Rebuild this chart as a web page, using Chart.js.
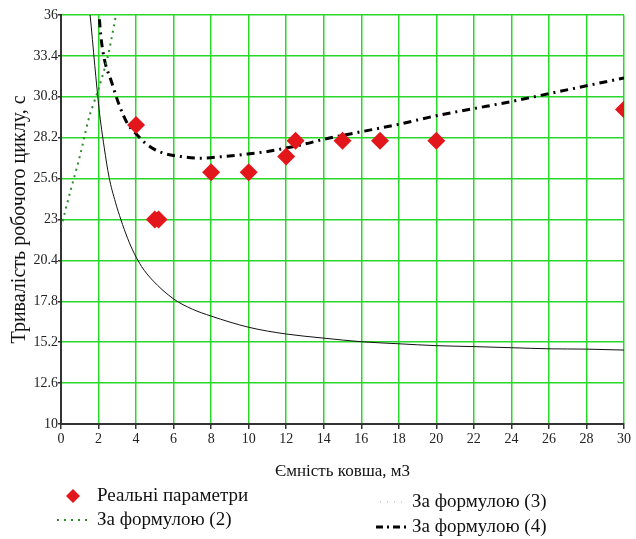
<!DOCTYPE html>
<html>
<head>
<meta charset="utf-8">
<script src="https://cdn.jsdelivr.net/npm/chart.js@4.4.1/dist/chart.umd.min.js"></script>
<style>
  html, body { margin: 0; padding: 0; background: #fff; }
</style>
</head>
<body>
<canvas id="graficoCiclu" width="636" height="539"></canvas>
<script>
// Реальні параметри (ємність ковша, тривалість циклу)
const realX = [4, 5, 5.2, 8, 10, 12, 12.5, 15, 17, 20, 30];
const realY = [29, 23, 23, 26, 26, 27, 28, 28, 28, 28, 30];

// За формулою (2) - зелена пунктирна
const f2X = [0, 0.5, 1, 1.5, 2, 2.5, 3, 3.2];
const f2Y = [22.5, 24.8, 27.0, 29.5, 31.3, 33.4, 36.4, 37.3];

// За формулою (3) - тонка чорна
const f3X = [1.45, 1.55, 1.8, 2.03, 2.3, 2.56, 2.9, 3.19, 3.55, 3.9, 4.3, 4.87, 6, 7, 8, 10, 12, 14, 16, 18, 20, 22, 24, 26, 28, 30];
const f3Y = [37, 36, 32.8, 30, 27.6, 25.7, 24.1, 23, 21.8, 20.85, 20.0, 19.15, 17.95, 17.3, 16.86, 16.15, 15.72, 15.46, 15.23, 15.1, 14.98, 14.92, 14.85, 14.78, 14.76, 14.7];

// За формулою (4) - штрих-пунктир
const f4X = [1.97, 2.03, 2.12, 2.3, 2.69, 3.1, 3.54, 4, 4.5, 5.23, 6.39, 7.46, 8.61, 9.77, 10.93, 11.9, 13, 14, 16, 18, 20, 22, 24, 26, 28, 30];
const f4Y = [37, 36, 34.7, 33.25, 31.76, 30.28, 29.1, 28.45, 27.85, 27.31, 27.0, 26.9, 27.0, 27.14, 27.31, 27.52, 27.8, 28.1, 28.58, 29.05, 29.6, 30.05, 30.5, 31.0, 31.5, 32.0];

// Поділки осей
const xTicks = [0, 2, 4, 6, 8, 10, 12, 14, 16, 18, 20, 22, 24, 26, 28, 30];
const yTicks = [10, 12.6, 15.2, 17.8, 20.4, 23, 25.6, 28.2, 30.8, 33.4, 36];

const legendLabels = ['Реальні параметри', 'За формулою (2)', 'За формулою (3)', 'За формулою (4)'];

const toPoints = (xs, ys) => xs.map((x, i) => ({ x: x, y: ys[i] }));

const serif = '"Liberation Serif", "Times New Roman", serif';
const gridGreen = 'rgb(40, 215, 40)';
const red = '#e3161c';
const green = '#2a8c2a';
const dash4 = [8, 5, 2, 5];

// легенда під графіком (малюється вручну, бо вона у два стовпці зі зсувом)
const legendaPlugin = {
    id: 'legenda',
    afterDraw(chart) {
        const c = chart.ctx;
        c.save();
        c.font = '19px ' + serif;
        c.fillStyle = '#111';
        c.textBaseline = 'middle';
        c.textAlign = 'left';

        // Реальні параметри
        c.fillStyle = red;
        c.beginPath();
        c.moveTo(73, 489); c.lineTo(80, 496); c.lineTo(73, 503); c.lineTo(66, 496);
        c.closePath(); c.fill();
        c.fillStyle = '#111';
        c.fillText(legendLabels[0], 97, 496);

        // За формулою (2)
        c.strokeStyle = green; c.lineWidth = 2; c.setLineDash([2, 5]);
        c.beginPath(); c.moveTo(57, 520); c.lineTo(91, 520); c.stroke();
        c.fillText(legendLabels[1], 97, 520);

        // За формулою (3)
        c.strokeStyle = '#aaa'; c.lineWidth = 1; c.setLineDash([1, 6]);
        c.beginPath(); c.moveTo(380, 502); c.lineTo(406, 502); c.stroke();
        c.fillText(legendLabels[2], 412, 502);

        // За формулою (4)
        c.strokeStyle = '#000'; c.lineWidth = 3; c.setLineDash([7, 4, 2, 4]);
        c.beginPath(); c.moveTo(376, 527); c.lineTo(406, 527); c.stroke();
        c.setLineDash([]);
        c.fillText(legendLabels[3], 412, 527);
        c.restore();
    }
};

const ctx = document.getElementById('graficoCiclu').getContext('2d');

new Chart(ctx, {
    type: 'scatter',
    data: {
        datasets: [{
            label: legendLabels[0],
            data: toPoints(realX, realY),
            pointStyle: 'rectRot',
            pointRadius: 9,
            pointBackgroundColor: red,
            pointBorderColor: red,
            pointBorderWidth: 0,
            showLine: false,
            clip: 0
        }, {
            label: legendLabels[1],
            data: toPoints(f2X, f2Y),
            showLine: true,
            borderColor: green,
            borderWidth: 2,
            borderDash: [2, 4.5],
            pointRadius: 0,
            tension: 0.3,
            clip: 0
        }, {
            label: legendLabels[2],
            data: toPoints(f3X, f3Y),
            showLine: true,
            borderColor: '#111',
            borderWidth: 1,
            pointRadius: 0,
            cubicInterpolationMode: 'monotone',
            clip: 0
        }, {
            label: legendLabels[3],
            data: toPoints(f4X, f4Y),
            showLine: true,
            borderColor: '#000',
            borderWidth: 3,
            borderDash: dash4,
            pointRadius: 0,
            cubicInterpolationMode: 'monotone',
            clip: 0
        }]
    },
    options: {
        responsive: false,
        animation: false,
        events: [],
        layout: {
            padding: { left: 0, right: 12, top: 15, bottom: 55 }
        },
        plugins: {
            legend: { display: false },
            tooltip: { enabled: false }
        },
        scales: {
            x: {
                type: 'linear',
                min: 0,
                max: 30,
                afterBuildTicks: (s) => { s.ticks = xTicks.map(v => ({ value: v })); },
                afterFit: (s) => { s.height = 60; },
                ticks: {
                    font: { size: 14, family: serif },
                    color: '#222',
                    padding: 2,
                    maxRotation: 0,
                    autoSkip: false
                },
                grid: {
                    color: gridGreen,
                    lineWidth: 1.5,
                    tickColor: '#333',
                    tickLength: 5
                },
                border: { color: '#333', width: 2 },
                title: {
                    display: true,
                    text: 'Ємність ковша, м3',
                    font: { size: 17, family: serif },
                    color: '#111',
                    padding: { top: 0, bottom: 2 }
                }
            },
            y: {
                type: 'linear',
                min: 10,
                max: 36,
                afterBuildTicks: (s) => { s.ticks = yTicks.map(v => ({ value: v })); },
                afterFit: (s) => { s.width = 61; },
                ticks: {
                    font: { size: 14, family: serif },
                    color: '#222',
                    padding: 0,
                    callback: (v) => String(Math.round(v * 10) / 10)
                },
                grid: {
                    color: gridGreen,
                    lineWidth: 1.5,
                    tickColor: '#333',
                    tickLength: 3
                },
                border: { color: '#333', width: 2 },
                title: {
                    display: true,
                    text: 'Тривалість робочого циклу, с',
                    font: { size: 20, family: serif },
                    color: '#111',
                    padding: { top: 8, bottom: 0 }
                }
            }
        }
    },
    plugins: [legendaPlugin]
});
</script>
</body>
</html>
